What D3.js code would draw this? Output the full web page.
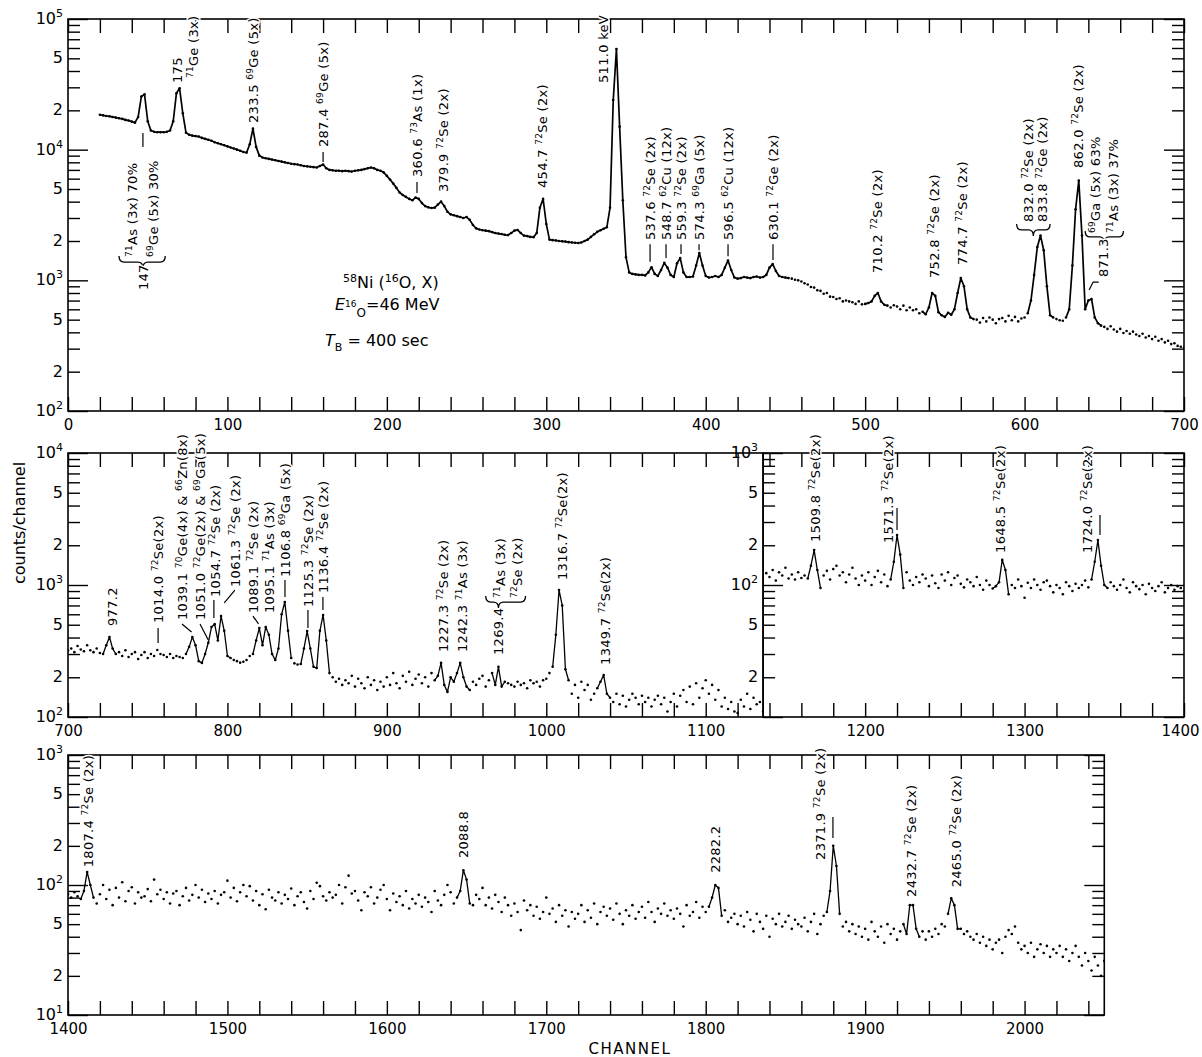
<!DOCTYPE html>
<html>
<head>
<meta charset="utf-8">
<script src="https://cdn.jsdelivr.net/npm/d3@7"></script>
<style>
body { margin: 0; background: #fff; }
svg { font-family: "DejaVu Sans", sans-serif; }
.frame { fill: none; stroke: #000; stroke-width: 1.6; }
.tick line { stroke: #000; stroke-width: 1.4; }
.pk { font-size: 13px; fill: #000; stroke: #fff; stroke-width: 3; paint-order: stroke; stroke-linejoin: round; letter-spacing: 0.3px; white-space: pre; }
.note { font-size: 16px; white-space: pre; }
</style>
</head>
<body>
<script>
// spectrum, one value every 2 channels
var step = 2;

var topStart = 20;   // channels 20..700
var topCounts = [
  18500,18300,18100,18000,17800,17600,17400,17200,16900,16700,
  16400,16100,17800,25500,26500,16500,14000,13700,13600,13600,
  13600,13700,14000,16500,27000,29500,19000,13500,13000,12800,
  12700,12600,12300,12100,11900,11700,11400,11200,11000,10800,
  10600,10400,10200,10000,9800,9600,9500,11000,14500,10500,
  9000,8700,8600,8500,8400,8300,8200,8100,8000,7900,
  7800,7750,7700,7600,7500,7450,7400,7350,7300,7500,
  7700,7200,7000,6950,6900,6900,6850,6900,6850,6800,
  6900,6950,7000,7100,7200,7300,7200,7000,6900,6700,
  6300,5900,5500,5100,4700,4500,4350,4200,4100,4300,
  4200,3900,3700,3620,3580,3600,3800,4000,3700,3350,
  3200,3150,3100,3050,3000,3050,2900,2650,2500,2450,
  2420,2400,2380,2340,2300,2280,2260,2230,2220,2300,
  2400,2430,2300,2200,2180,2150,2140,2300,3600,4200,
  2700,2050,2030,2020,2000,1990,1980,1960,1950,1940,
  1930,1950,2000,2050,2150,2250,2350,2420,2480,2550,
  3600,24000,59000,15000,4100,1500,1150,1120,1110,1100,
  1100,1090,1150,1260,1120,1080,1200,1360,1250,1100,
  1060,1350,1480,1150,1060,1060,1070,1300,1620,1300,
  1080,1050,1060,1080,1060,1100,1250,1420,1200,1050,
  1030,1040,1060,1050,1040,1060,1070,1050,1060,1100,
  1250,1330,1180,1080,1060,1050,1040,1030,1010,1000,
  980,950,930,890,880,840,830,790,800,750,
  745,720,730,690,700,690,680,660,690,655,
  660,670,690,760,800,690,650,640,620,645,
  630,600,640,590,620,590,600,560,575,550,
  620,800,760,570,540,525,565,545,600,800,
  1040,900,600,520,505,500,475,515,485,520,
  500,470,505,515,485,535,495,525,485,510,
  520,560,700,1100,1800,2200,1700,900,540,520,
  505,495,490,520,600,1300,3500,5800,2200,600,
  700,720,520,470,450,440,425,445,420,405,
  425,395,410,390,405,385,375,390,365,375,
  355,370,345,355,335,345,325,330,315,310,
  305
];

var midStart = 700;  // channels 700..1136
var midCounts = [
  320,330,310,345,325,315,350,320,310,330,
  305,300,350,404,330,300,310,290,320,285,
  300,310,275,295,310,280,300,290,322,300,
  295,285,300,280,290,285,280,300,340,404,
  350,265,257,300,365,480,505,380,582,450,
  290,280,270,265,258,262,270,290,300,380,
  472,350,480,420,300,270,330,600,743,450,
  280,255,250,252,330,448,330,240,235,450,
  593,380,215,200,185,195,175,190,180,205,
  170,195,180,165,200,175,190,160,185,170,
  200,175,215,180,165,205,185,220,175,195,
  210,180,200,170,215,190,205,257,175,155,
  200,185,215,257,200,170,160,185,175,195,
  205,170,190,215,175,240,170,185,180,175,
  170,185,175,180,165,190,180,185,170,190,
  195,215,240,420,916,700,230,190,150,175,
  140,185,160,175,135,150,165,185,208,150,
  140,130,150,125,145,120,135,150,140,125,
  145,130,140,120,135,145,125,140,110,130,
  150,120,145,160,130,170,125,180,140,165,
  190,150,175,135,160,120,140,115,130,110,
  107,135,120,150,115,140,125,130,110
];

var rightStart = 1138; // channels 1138..1400
var rightCounts = [
  123,115,130,108,125,118,135,112,120,110,
  125,113,118,112,140,184,130,95,118,128,
  110,132,140,118,125,105,120,135,112,100,
  118,108,125,100,115,128,105,120,98,110,
  150,239,170,95,125,108,100,115,105,120,
  112,98,118,103,95,120,108,125,100,113,
  118,102,96,110,105,98,115,100,92,108,
  100,94,98,105,155,130,85,100,95,110,
  98,80,104,95,110,100,92,105,108,98,
  88,100,95,85,105,98,90,102,95,100,
  108,96,110,150,219,140,100,95,105,98,
  92,100,110,95,88,105,98,93,100,85,
  102,95,90,98,105,88,95,100,92,98,
  95,90
];

var lowStart = 1400;  // channels 1400..2050
var lowCounts = [
  85,80,88,82,78,90,126,100,80,72,
  85,100,78,92,70,95,80,105,75,90,
  96,72,88,80,82,93,75,110,85,92,
  78,88,72,86,90,70,82,95,76,84,
  100,80,92,74,86,78,90,72,84,88,
  108,80,95,75,88,100,82,98,76,90,
  70,85,65,92,80,76,88,72,84,78,
  94,70,82,88,74,66,90,78,104,98,
  82,76,88,80,84,100,72,96,118,86,
  90,76,64,88,82,96,72,80,92,100,
  78,64,86,74,82,70,90,66,78,72,
  84,68,80,74,62,90,76,70,84,100,
  88,72,80,90,130,110,72,70,84,78,
  95,70,80,66,84,74,62,80,70,58,
  72,62,45,76,64,70,58,68,55,62,
  80,60,66,52,70,58,64,48,62,55,
  60,70,52,64,56,72,50,62,68,58,
  66,54,72,60,50,64,58,70,55,62,
  68,56,74,62,52,66,60,72,58,64,
  55,66,60,48,70,58,62,74,56,68,
  62,68,80,100,95,58,64,52,56,60,
  50,58,48,62,54,44,60,52,46,58,
  40,55,50,60,48,52,58,46,54,50,
  48,56,44,52,60,42,50,58,62,90,
  200,140,60,48,52,44,50,42,48,40,
  46,38,52,44,40,48,36,50,42,46,
  38,44,50,42,70,70,46,40,44,38,
  44,40,46,42,50,48,60,79,70,46,
  46,42,44,40,38,42,36,40,34,38,
  32,36,38,30,40,45,42,48,36,32,
  34,30,36,28,32,35,30,34,28,32,
  30,34,28,32,26,30,34,28,24,30,
  26,22,28,24,20,26
];

// channels of the peaks that are drawn as joined points
var topSolidTo = 452;  // below this channel the top spectrum is one solid trace
var topPeaks = [507, 543, 560, 610, 634, 641];
var midPeaks = [726, 778, 788, 791, 797, 820, 825, 835, 850, 859, 935, 947, 970, 1009, 1036];
var rightPeaks = [1168, 1220, 1285, 1347];
var lowPeaks = [1412, 1648, 1806, 1880, 1929, 1956];

// peak labels: [channel, counts at the foot of the text, text]  (^NN = superscript)
var topLabels = [
  [47.0, 843, "147"],
  [40.1, 1510, "^71As (3x) 70%"],
  [53.3, 1510, "^69Ge (5x) 30%"],
  [68.4, 32400, "175"],
  [78.4, 35300, "^71Ge (3x)"],
  [116.0, 16000, "233.5 ^69Ge (5x)"],
  [160.0, 10470, "287.4 ^69Ge (5x)"],
  [218.9, 6180, "360.6 ^73As (1x)"],
  [235.2, 4740, "379.9 ^72Se (2x)"],
  [297.3, 5090, "454.7 ^72Se (2x)"],
  [335.6, 32400, "511.0 keV"],
  [365.1, 2035, "537.6 ^72Se (2x)"],
  [375.1, 2035, "548.7 ^62Cu (12x)"],
  [384.5, 2035, "559.3 ^72Se (2x)"],
  [395.8, 2035, "574.3 ^69Ga (5x)"],
  [414.0, 2035, "596.5 ^62Cu (12x)"],
  [442.2, 2035, "630.1 ^72Ge (2x)"],
  [507.4, 1138, "710.2 ^72Se (2x)"],
  [543.2, 1042, "752.8 ^72Se (2x)"],
  [560.7, 1310, "774.7 ^72Se (2x)"],
  [602.1, 2795, "832.0 ^72Se (2x)"],
  [611.0, 2795, "833.8 ^72Ge (2x)"],
  [633.5, 7240, "862.0 ^72Se (2x)"],
  [649.2, 1060, "871.3"],
  [644.2, 2300, "^69Ga (5x) 63%"],
  [655.5, 2300, "^71As (3x) 37%"]
];
var midLabels = [
  [727.6, 489, "977.2"],
  [756.5, 515, "1014.0 ^72Se(2x)"],
  [771.5, 543, "1039.1 ^70Ge(4x) & ^66Zn(8x)"],
  [782.8, 543, "1051.0 ^72Ge(2x) & ^69Ga(5x)"],
  [792.2, 811, "1054.7 ^72Se (2x)"],
  [804.7, 966, "1061.3 ^72Se (2x)"],
  [816.0, 614, "1089.1 ^72Se (2x)"],
  [826.1, 614, "1095.1 ^71As (3x)"],
  [836.1, 1150, "1106.8 ^69Ga (5x)"],
  [850.5, 681, "1125.3 ^72Se (2x)"],
  [859.9, 870, "1136.4 ^72Se (2x)"],
  [935.2, 311, "1227.3 ^72Se (2x)"],
  [947.1, 311, "1242.3 ^71As (3x)"],
  [969.7, 295, "1269.4"],
  [971.0, 797, "^71As (3x)"],
  [981.6, 797, "^72Se (2x)"],
  [1009.9, 1091, "1316.7 ^72Se(2x)"],
  [1036.8, 248, "1349.7 ^72Se(2x)"]
];
var rightLabels = [
  [1168.5, 212, "1509.8 ^72Se(2x)"],
  [1214.3, 208, "1571.3 ^72Se(2x)"],
  [1284.6, 175, "1648.5 ^72Se(2x)"],
  [1339.2, 175, "1724.0 ^72Se(2x)"]
];
var lowLabels = [
  [1412.5, 137, "1807.4 ^72Se (2x)"],
  [1647.8, 161, "2088.8"],
  [1805.8, 124, "2282.2"],
  [1871.7, 156, "2371.9 ^72Se (2x)"],
  [1928.8, 81, "2432.7 ^72Se (2x)"],
  [1957.0, 96, "2465.0 ^72Se (2x)"]
];

// leader strokes [[channel, counts], ...] and braces [from, to, cusp, counts]
var topLeaders = [
  [[47, 13400], [47, 10470]],
  [[160, 9600], [160, 8050]],
  [[218.9, 5660], [218.9, 4660]],
  [[365.1, 1890], [365.1, 1385]],
  [[375.1, 1890], [375.1, 1480]],
  [[384.5, 1890], [384.5, 1590]],
  [[395.8, 1890], [395.8, 1700]],
  [[414.0, 1890], [414.0, 1530]],
  [[442.2, 1890], [442.2, 1430]],
  [[640.5, 843], [643, 970], [646.5, 970]]
];
var topBraces = [[32, 61, 47, 1380], [595, 616, 605.5, 2430], [638, 662, 650, 2150]];
var midLeaders = [
  [[756.5, 472], [756.5, 364]],
  [[771.5, 507], [777.5, 440]],
  [[782.8, 507], [788, 383]],
  [[791.5, 770], [791.5, 562]],
  [[804.7, 916], [798, 731]],
  [[816, 582], [819.5, 507]],
  [[836.1, 1091], [836.1, 811]],
  [[850.5, 647], [850.5, 472]],
  [[859.9, 811], [859.9, 647]]
];
var midBraces = [[962, 987, 970, 743]];
var rightLeaders = [[[1220, 383], [1220, 261]], [[1347.3, 339], [1347.3, 239]]];
var lowLeaders = [[[1879.8, 333], [1879.8, 230]]];

// tick labels on the count axes
var topYLabels = [100, 200, 500, 1e3, 2e3, 5e3, 1e4, 2e4, 5e4, 1e5];
var midYLabels = [100, 200, 500, 1e3, 2e3, 5e3, 1e4];
var rightYLabels = [20, 50, 100, 200, 500, 1000];
var lowYLabels = [10, 20, 50, 100, 200, 500, 1000];

var width = 1202, height = 1057;
var pxPerCh = (1184 - 68) / 700;

var svg = d3.select("body").append("svg")
    .attr("width", width)
    .attr("height", height);

// three rows share the same channel spacing
var rows = [
  {c0: 0, c1: 700, top: 19, bottom: 411, ticks: d3.range(0, 701, 20)},
  {c0: 700, c1: 1400, top: 453, bottom: 717, ticks: d3.range(700, 1401, 20)},
  {c0: 1400, c1: 2050, top: 755, bottom: 1015, ticks: d3.range(1400, 2041, 20)}
];
rows.forEach(function(r) {
  r.x = d3.scaleLinear().domain([r.c0, r.c1]).range([68, 68 + (r.c1 - r.c0) * pxPerCh]);
});

var panels = [
  {row: rows[0], from: 0, to: 700, y: [1e2, 1e5], start: topStart, counts: topCounts, peaks: topPeaks, solidTo: topSolidTo, win: 8,
   labels: topLabels, leaders: topLeaders, braces: topBraces, yLabels: topYLabels, rightTicks: true},
  {row: rows[1], from: 700, to: 1136, y: [1e2, 1e4], start: midStart, counts: midCounts, peaks: midPeaks, solidTo: 0, win: 5,
   labels: midLabels, leaders: midLeaders, braces: midBraces, yLabels: midYLabels, rightTicks: false},
  {row: rows[1], from: 1136, to: 1400, y: [1e1, 1e3], start: rightStart, counts: rightCounts, peaks: rightPeaks, solidTo: 0, win: 5,
   labels: rightLabels, leaders: rightLeaders, braces: [], yLabels: rightYLabels, rightTicks: true},
  {row: rows[2], from: 1400, to: 2050, y: [1e1, 1e3], start: lowStart, counts: lowCounts, peaks: lowPeaks, solidTo: 0, win: 5,
   labels: lowLabels, leaders: lowLeaders, braces: [], yLabels: lowYLabels, rightTicks: true}
];

// channel axes, ticks every 20 pointing inward
rows.forEach(function(r) {
  svg.append("g")
      .attr("transform", "translate(0," + r.bottom + ")")
      .call(d3.axisBottom(r.x).tickValues(r.ticks).tickSize(-14).tickPadding(8)
        .tickFormat(function(d) { return d % 100 === 0 ? d : ""; }))
      .attr("font-size", 15).attr("font-family", "DejaVu Sans")
      .call(function(a) { a.select(".domain").remove(); })
      .selectAll(".tick text")
      .attr("dx", function(d) { return d === 1400 && r.c1 === 1400 ? -4 : 0; });
  svg.append("g")
      .attr("transform", "translate(0," + r.top + ")")
      .call(d3.axisTop(r.x).tickValues(r.ticks).tickSize(-14).tickFormat(""))
      .call(function(a) { a.select(".domain").remove(); });
});

function logTicks(lo, hi) {
  var minor = [], major = [];
  for (var d = lo; d < hi; d *= 10) {
    major.push(d);
    for (var k = 2; k < 10; k++) minor.push(d * k);
  }
  major.push(hi);
  return {minor: minor, major: major};
}

function drawYAxis(g, ys, x, axisFn, lo, hi) {
  var t = logTicks(lo, hi);
  g.append("g").attr("transform", "translate(" + x + ",0)")
      .call(axisFn(ys).tickValues(t.minor).tickSize(-12).tickFormat(""))
      .call(function(a) { a.select(".domain").remove(); });
  g.append("g").attr("transform", "translate(" + x + ",0)")
      .call(axisFn(ys).tickValues(t.major).tickSize(-20).tickFormat(""))
      .call(function(a) { a.select(".domain").remove(); });
}

function yLabel(g, ys, x, v) {
  var e = Math.log10(v);
  var t = g.append("text")
      .attr("x", x).attr("y", ys(v) + 5)
      .attr("text-anchor", "end").attr("font-size", 16);
  if (Math.abs(e - Math.round(e)) < 1e-6) {
    t.append("tspan").text("10");
    t.append("tspan").attr("dy", -7).attr("font-size", 11).text(Math.round(e));
  } else {
    t.text(Math.round(v / Math.pow(10, Math.floor(e + 1e-9))));
  }
}

function drawLabel(g, xs, ys, lab) {
  var t = g.append("text")
      .attr("class", "pk")
      .attr("transform", "translate(" + (xs(lab[0]) + 4.7) + "," + ys(lab[1]) + ") rotate(-90)");
  var raised = false;
  lab[2].split(/(\^\d+)/).filter(function(s) { return s.length; }).forEach(function(s) {
    var sp = t.append("tspan");
    if (s[0] === "^") {
      sp.attr("dy", raised ? 0 : -5).attr("font-size", 9).text(s.slice(1));
      raised = true;
    } else {
      if (raised) sp.attr("dy", 5);
      raised = false;
      sp.text(s);
    }
  });
}

function bracePath(x0, x1, xm, y) {
  return "M" + x0 + "," + (y - 6) + "Q" + x0 + "," + y + " " + (x0 + 5) + "," + y +
    "L" + (xm - 5) + "," + y + "Q" + xm + "," + y + " " + xm + "," + (y + 6) +
    "Q" + xm + "," + y + " " + (xm + 5) + "," + y +
    "L" + (x1 - 5) + "," + y + "Q" + x1 + "," + y + " " + x1 + "," + (y - 6);
}

panels.forEach(function(p, i) {
  var xs = p.row.x;
  var ys = d3.scaleLog().domain(p.y).range([p.row.bottom, p.row.top]);
  var px0 = xs(p.from), px1 = xs(p.to);
  var g = svg.append("g");

  g.append("clipPath").attr("id", "clip" + i)
    .append("rect").attr("x", px0).attr("y", p.row.top)
    .attr("width", px1 - px0).attr("height", p.row.bottom - p.row.top);

  g.append("rect").attr("class", "frame")
      .attr("x", px0).attr("y", p.row.top)
      .attr("width", px1 - px0).attr("height", p.row.bottom - p.row.top);

  drawYAxis(g, ys, px0, d3.axisLeft, p.y[0], p.y[1]);
  if (p.rightTicks) drawYAxis(g, ys, px1, d3.axisRight, p.y[0], p.y[1]);
  p.yLabels.forEach(function(v) { yLabel(g, ys, px0 - 5, v); });

  var pts = p.counts.map(function(c, k) { return {ch: p.start + k * step, c: c}; });
  var data = g.append("g").attr("clip-path", "url(#clip" + i + ")");

  var joined = function(d) {
    if (d.ch <= p.solidTo) return true;
    return p.peaks.some(function(k) { return Math.abs(d.ch - k) <= p.win; });
  };
  var line = d3.line()
      .defined(joined)
      .x(function(d) { return xs(d.ch); })
      .y(function(d) { return ys(d.c); });

  data.append("path").datum(pts)
      .attr("d", line)
      .attr("fill", "none").attr("stroke", "#000")
      .attr("stroke-width", p.solidTo ? 1.7 : 1.3)
      .attr("stroke-linejoin", "round");

  data.selectAll("circle").data(pts).enter().append("circle")
      .attr("cx", function(d) { return xs(d.ch); })
      .attr("cy", function(d) { return ys(d.c); })
      .attr("r", 1.3)
      .attr("fill", "#000");

  var lead = d3.line().x(function(d) { return xs(d[0]); }).y(function(d) { return ys(d[1]); });
  p.leaders.forEach(function(l) {
    g.append("path").attr("d", lead(l)).attr("fill", "none").attr("stroke", "#000").attr("stroke-width", 1.2);
  });
  p.braces.forEach(function(b) {
    g.append("path").attr("d", bracePath(xs(b[0]), xs(b[1]), xs(b[2]), ys(b[3])))
        .attr("fill", "none").attr("stroke", "#000").attr("stroke-width", 1.3);
  });
  p.labels.forEach(function(l) { drawLabel(g, xs, ys, l); });
});

// reaction notes in the top panel
var n1 = svg.append("text").attr("class", "note").attr("x", 343).attr("y", 288);
n1.append("tspan").attr("dy", -6).attr("font-size", 11).text("58");
n1.append("tspan").attr("dy", 6).text("Ni (");
n1.append("tspan").attr("dy", -6).attr("font-size", 11).text("16");
n1.append("tspan").attr("dy", 6).text("O, X)");

var n2 = svg.append("text").attr("class", "note").attr("x", 335).attr("y", 310);
n2.append("tspan").attr("font-style", "italic").text("E");
n2.append("tspan").attr("dy", -3).attr("font-size", 9).text("16");
n2.append("tspan").attr("dy", 10).attr("font-size", 12).text("O");
n2.append("tspan").attr("dy", -7).text("=46 MeV");

var n3 = svg.append("text").attr("class", "note").attr("x", 325).attr("y", 346);
n3.append("tspan").attr("font-style", "italic").text("T");
n3.append("tspan").attr("dy", 5).attr("font-size", 11).text("B");
n3.append("tspan").attr("dy", -5).text(" = 400 sec");

svg.append("text")
    .attr("transform", "translate(25,523) rotate(-90)")
    .attr("text-anchor", "middle").attr("font-size", 16)
    .text("counts/channel");

svg.append("text")
    .attr("x", 630).attr("y", 1054)
    .attr("text-anchor", "middle").attr("font-size", 15)
    .attr("letter-spacing", 1.5)
    .text("CHANNEL");
</script>
</body>
</html>
